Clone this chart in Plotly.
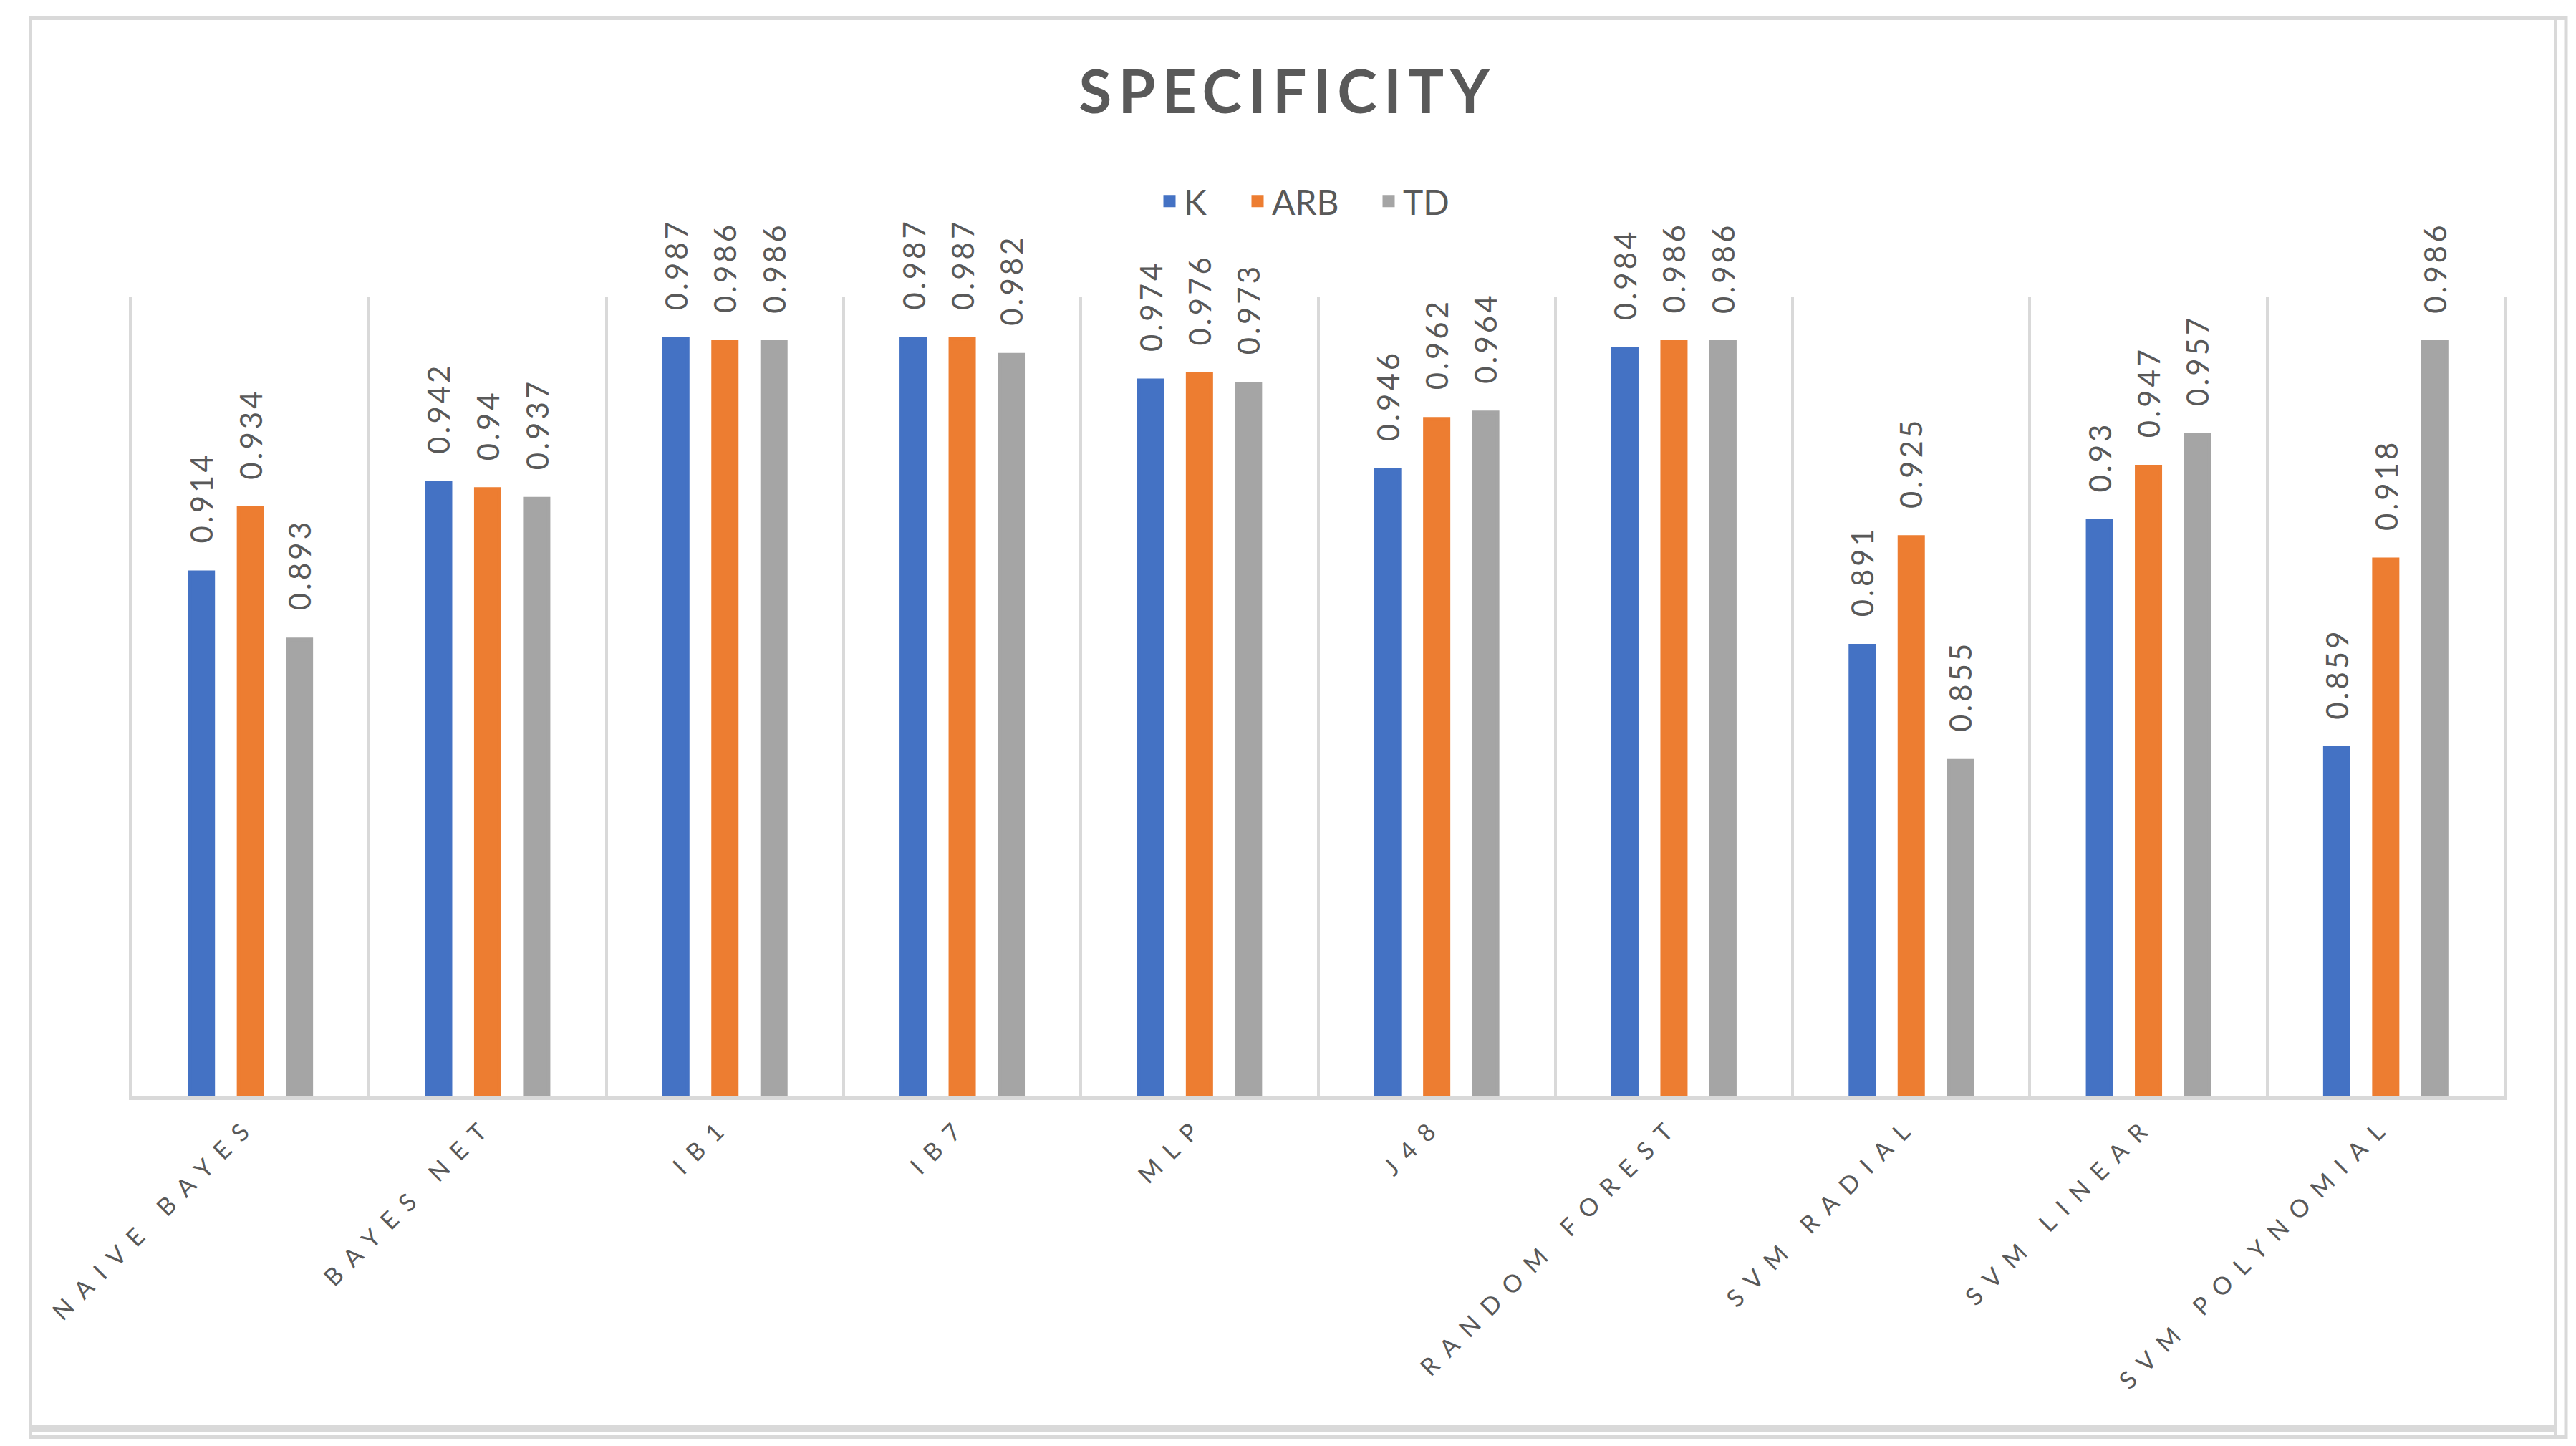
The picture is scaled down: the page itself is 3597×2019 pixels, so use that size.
import plotly.graph_objects as go

# ---------------- data ----------------
categories = ["NAIVE BAYES", "BAYES NET", "IB1", "IB7", "MLP", "J48",
              "RANDOM FOREST", "SVM RADIAL", "SVM LINEAR", "SVM POLYNOMIAL"]
k_values = [0.914, 0.942, 0.987, 0.987, 0.974, 0.946, 0.984, 0.891, 0.93, 0.859]
arb_values = [0.934, 0.94, 0.986, 0.987, 0.976, 0.962, 0.986, 0.925, 0.947, 0.918]
td_values = [0.893, 0.937, 0.986, 0.982, 0.973, 0.964, 0.986, 0.855, 0.957, 0.986]
series_names = ["K", "ARB", "TD"]
series_values = [k_values, arb_values, td_values]
series_colors = ["#4472C4", "#ED7D31", "#A5A5A5"]
chart_title = "SPECIFICITY"

# ---------------- layout constants ----------------
W, H = 3597, 2019
ML, MR, MT, MB = 176, 108, 407, 496
PW = W - ML - MR
PH = H - MT - MB
TEXT_GREY = "#595959"
LINE_GREY = "#d9d9d9"
FONT = "Lato"
BARGAP = 0.38
SLOT = (1 - BARGAP) / len(series_names)
LEGEND_TEXT_X = [1645, 1768, 1951]   # left edge of each legend text, px


def xp(px):
    return (px - ML) / PW


def yp(py):
    return (H - MB - py) / PH


def spaced(s, px):
    return '<span style="letter-spacing:%dpx">%s</span>' % (px, s)


fig = go.Figure()
annotations = []
legend_ids = ["legend", "legend2", "legend3"]
for si, (name, vals, col) in enumerate(zip(series_names, series_values, series_colors)):
    fig.add_trace(go.Bar(
        name=name,
        x=categories,
        y=vals,
        marker=dict(color=col, line=dict(color=col, width=5)),
        legend=legend_ids[si],
        showlegend=True,
        hoverinfo="x+y+name",
    ))
    offset = (si - (len(series_names) - 1) / 2) * SLOT
    for ci, v in enumerate(vals):
        annotations.append(dict(
            x=ci + offset, y=v, xref="x", yref="y",
            text=spaced(str(v), 4), showarrow=False, textangle=-90,
            xanchor="center", yanchor="bottom", yshift=38,
            font=dict(family=FONT, size=42, color=TEXT_GREY),
        ))

shapes = [
    # outer frame of the picture
    dict(type="rect", xref="paper", yref="paper",
         x0=xp(34.5), x1=xp(3575), y0=yp(1998.5), y1=yp(17.5),
         line=dict(color=LINE_GREY, width=5), layer="below"),
    dict(type="line", xref="paper", yref="paper",
         x0=xp(3560), x1=xp(3560), y0=yp(1998.5), y1=yp(17.5),
         line=dict(color=LINE_GREY, width=4), layer="below"),
    dict(type="line", xref="paper", yref="paper",
         x0=xp(34.5), x1=xp(3560), y0=yp(1986), y1=yp(1986),
         line=dict(color=LINE_GREY, width=10), layer="below"),
]

legend_common = dict(orientation="h", xanchor="left", y=1.12, yanchor="middle",
                     font=dict(family=FONT, size=48, color=TEXT_GREY),
                     bgcolor="rgba(0,0,0,0)", visible=True)
legends = {}
for lid, tx in zip(legend_ids, LEGEND_TEXT_X):
    legends[lid] = dict(legend_common, x=xp(tx - 40))

fig.update_layout(
    width=W, height=H,
    margin=dict(l=ML, r=MR, t=MT, b=MB, autoexpand=False),
    paper_bgcolor="white", plot_bgcolor="white",
    showlegend=True,
    barmode="group", bargap=BARGAP, bargroupgap=0.518,
    font=dict(family=FONT, color=TEXT_GREY),
    title=dict(text=spaced(chart_title, 9), x=0.4975, xref="container",
               xanchor="center", y=1 - 121 / H, yref="container", yanchor="middle",
               font=dict(family=FONT, size=84, color=TEXT_GREY, weight=700)),
    xaxis=dict(type="category", tickson="boundaries", showgrid=True,
               gridcolor=LINE_GREY, gridwidth=4, showline=True,
               linecolor=LINE_GREY, linewidth=5, ticks="", zeroline=False,
               tickmode="array", tickvals=categories,
               ticktext=[spaced(c, 16) for c in categories],
               tickangle=-45, tickfont=dict(family=FONT, size=34, color=TEXT_GREY)),
    yaxis=dict(range=[0.75, 1.0], showticklabels=False, showgrid=False,
               zeroline=False, showline=True, mirror=True, linecolor=LINE_GREY,
               linewidth=4, ticks=""),
    shapes=shapes,
    annotations=annotations,
    **legends,
)

fig.write_html("out.html")
